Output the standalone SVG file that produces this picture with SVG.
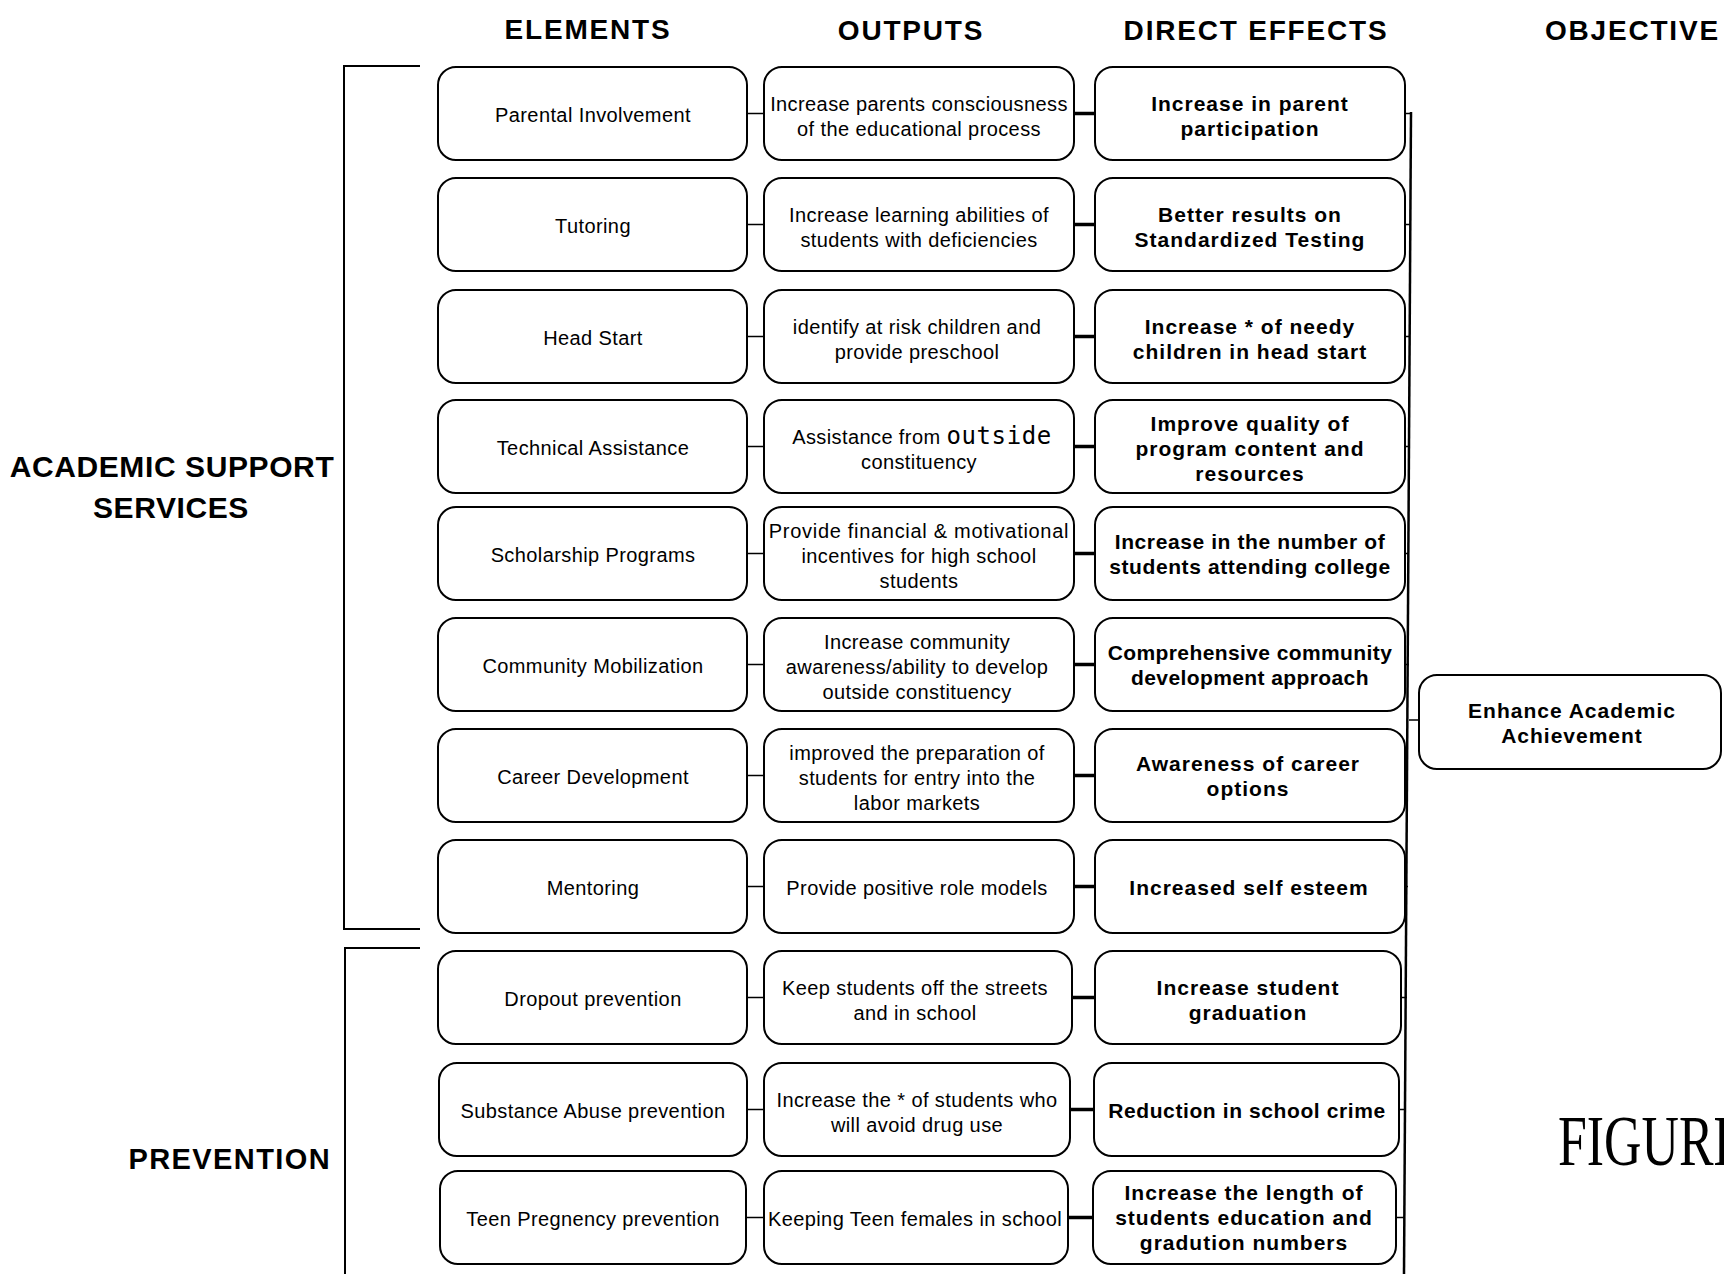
<svg xmlns="http://www.w3.org/2000/svg" width="1724" height="1274" viewBox="0 0 1724 1274">
<style>
.box{fill:#fff;stroke:#000;stroke-width:2}
.t{font-family:"Liberation Sans",Arial,sans-serif;font-size:20px;letter-spacing:0.4px;text-anchor:middle;fill:#000}
.b{font-family:"Liberation Sans",Arial,sans-serif;font-weight:bold;font-size:21px;letter-spacing:1px;text-anchor:middle;fill:#000}
.h{font-family:"Liberation Sans",Arial,sans-serif;font-weight:bold;font-size:28px;letter-spacing:1.8px;text-anchor:middle;fill:#000}
.s{font-family:"Liberation Sans",Arial,sans-serif;font-weight:bold;font-size:30px;letter-spacing:0.6px;text-anchor:middle;fill:#000}
.m{font-family:"DejaVu Sans Mono",monospace;font-size:24px;letter-spacing:0.6px}
.c1{stroke:#000;stroke-width:1.5;fill:none}
.c3{stroke:#000;stroke-width:3.5;fill:none}
.ln{stroke:#000;stroke-width:2;fill:none}
</style>
<rect width="1724" height="1274" fill="#fff"/>

<g id="headers">
<text class="h" x="588" y="39">ELEMENTS</text>
<text class="h" x="911" y="40">OUTPUTS</text>
<text class="h" x="1256" y="40">DIRECT EFFECTS</text>
<text class="h" x="1545" y="40" style="text-anchor:start">OBJECTIVE</text>
</g>

<g id="group-labels">
<text class="s" x="172" y="477">ACADEMIC SUPPORT</text>
<text class="s" x="171" y="518">SERVICES</text>
<text class="s" x="331" y="1169" style="text-anchor:end;font-size:29px;letter-spacing:1.4px">PREVENTION</text>
</g>

<g id="brackets">
<path class="ln" d="M420,66 H344 V929 H420"/>
<path class="ln" d="M420,948 H345 V1274"/>
</g>

<g id="connectors">
<path class="c1" d="M747,113.5 H764 M747,224.5 H764 M747,336.5 H764 M747,446.5 H764 M747,553.5 H764 M747,664.5 H764 M747,775.5 H764 M747,886.5 H764 M747,997.5 H764 M747,1109.5 H764 M746,1217.5 H764"/>
<path class="c3" d="M1074,113.5 H1095 M1074,224.5 H1095 M1074,336.5 H1095 M1074,446.5 H1095 M1074,553.5 H1095 M1074,664.5 H1095 M1074,775.5 H1095 M1074,886.5 H1095 M1072,997.5 H1095 M1070,1109.5 H1094 M1068,1217.5 H1093"/>
<path class="c1" d="M1405,113.5 H1411 M1405,224.5 H1411 M1405,336.5 H1410 M1405,446.5 H1410 M1405,553.5 H1409 M1405,664.5 H1409 M1405,775.5 H1408 M1405,886.5 H1408 M1401,997.5 H1407 M1399,1109.5 H1406 M1396,1217.5 H1405"/>
<path d="M1411,112 L1404,1274" stroke="#000" stroke-width="2.5" fill="none"/>
<path class="c1" d="M1409,720 H1419"/>
</g>

<g id="e1"><rect class="box" x="438" y="67" width="309" height="93" rx="18"/><text class="t" x="593" y="121.5">Parental Involvement</text></g>
<g id="e2"><rect class="box" x="438" y="178" width="309" height="93" rx="18"/><text class="t" x="593" y="232.5">Tutoring</text></g>
<g id="e3"><rect class="box" x="438" y="290" width="309" height="93" rx="18"/><text class="t" x="593" y="344.5">Head Start</text></g>
<g id="e4"><rect class="box" x="438" y="400" width="309" height="93" rx="18"/><text class="t" x="593" y="454.5">Technical Assistance</text></g>
<g id="e5"><rect class="box" x="438" y="507" width="309" height="93" rx="18"/><text class="t" x="593" y="561.5">Scholarship Programs</text></g>
<g id="e6"><rect class="box" x="438" y="618" width="309" height="93" rx="18"/><text class="t" x="593" y="672.5">Community Mobilization</text></g>
<g id="e7"><rect class="box" x="438" y="729" width="309" height="93" rx="18"/><text class="t" x="593" y="783.5">Career Development</text></g>
<g id="e8"><rect class="box" x="438" y="840" width="309" height="93" rx="18"/><text class="t" x="593" y="894.5">Mentoring</text></g>
<g id="e9"><rect class="box" x="438" y="951" width="309" height="93" rx="18"/><text class="t" x="593" y="1005.5">Dropout prevention</text></g>
<g id="e10"><rect class="box" x="439" y="1063" width="308" height="93" rx="18"/><text class="t" x="593" y="1117.5">Substance Abuse prevention</text></g>
<g id="e11"><rect class="box" x="440" y="1171" width="306" height="93" rx="18"/><text class="t" x="593" y="1225.5">Teen Pregnency prevention</text></g>

<g id="o1"><rect class="box" x="764" y="67" width="310" height="93" rx="18"/><text class="t" x="919" y="111">Increase parents consciousness<tspan x="919" dy="24.5">of the educational process</tspan></text></g>
<g id="o2"><rect class="box" x="764" y="178" width="310" height="93" rx="18"/><text class="t" x="919" y="222">Increase learning abilities of<tspan x="919" dy="24.5">students with deficiencies</tspan></text></g>
<g id="o3"><rect class="box" x="764" y="290" width="310" height="93" rx="18"/><text class="t" x="917" y="334">identify at risk children and<tspan x="917" dy="24.5">provide preschool</tspan></text></g>
<g id="o4"><rect class="box" x="764" y="400" width="310" height="93" rx="18"/><text class="t" x="922" y="444">Assistance from <tspan class="m">outside</tspan><tspan x="919" dy="24.5">constituency</tspan></text></g>
<g id="o5"><rect class="box" x="764" y="507" width="310" height="93" rx="18"/><text class="t" x="919" y="537.5"><tspan style="letter-spacing:0.7px">Provide financial &amp; motivational</tspan><tspan x="919" dy="25">incentives for high school</tspan><tspan x="919" dy="25">students</tspan></text></g>
<g id="o6"><rect class="box" x="764" y="618" width="310" height="93" rx="18"/><text class="t" x="917" y="648.5">Increase community<tspan x="917" dy="25">awareness/ability to develop</tspan><tspan x="917" dy="25">outside constituency</tspan></text></g>
<g id="o7"><rect class="box" x="764" y="729" width="310" height="93" rx="18"/><text class="t" x="917" y="759.5">improved the preparation of<tspan x="917" dy="25">students for entry into the</tspan><tspan x="917" dy="25">labor markets</tspan></text></g>
<g id="o8"><rect class="box" x="764" y="840" width="310" height="93" rx="18"/><text class="t" x="917" y="894.5">Provide positive role models</text></g>
<g id="o9"><rect class="box" x="764" y="951" width="308" height="93" rx="18"/><text class="t" x="915" y="995">Keep students off the streets<tspan x="915" dy="24.5">and in school</tspan></text></g>
<g id="o10"><rect class="box" x="764" y="1063" width="306" height="93" rx="18"/><text class="t" x="917" y="1107">Increase the * of students who<tspan x="917" dy="24.5">will avoid drug use</tspan></text></g>
<g id="o11"><rect class="box" x="764" y="1171" width="304" height="93" rx="18"/><text class="t" x="915" y="1225.5">Keeping Teen females in school</text></g>

<g id="d1"><rect class="box" x="1095" y="67" width="310" height="93" rx="18"/><text class="b" x="1250" y="111">Increase in parent<tspan x="1250" dy="24.5">participation</tspan></text></g>
<g id="d2"><rect class="box" x="1095" y="178" width="310" height="93" rx="18"/><text class="b" x="1250" y="222">Better results on<tspan x="1250" dy="24.5">Standardized Testing</tspan></text></g>
<g id="d3"><rect class="box" x="1095" y="290" width="310" height="93" rx="18"/><text class="b" x="1250" y="334">Increase * of needy<tspan x="1250" dy="24.5">children in head start</tspan></text></g>
<g id="d4"><rect class="box" x="1095" y="400" width="310" height="93" rx="18"/><text class="b" x="1250" y="430.5">Improve quality of<tspan x="1250" dy="25">program content and</tspan><tspan x="1250" dy="25">resources</tspan></text></g>
<g id="d5"><rect class="box" x="1095" y="507" width="310" height="93" rx="18"/><text class="b" x="1250" y="549" style="letter-spacing:0.6px">Increase in the number of<tspan x="1250" dy="24.5">students attending college</tspan></text></g>
<g id="d6"><rect class="box" x="1095" y="618" width="310" height="93" rx="18"/><text class="b" x="1250" y="660" style="letter-spacing:0.4px">Comprehensive community<tspan x="1250" dy="24.5">development approach</tspan></text></g>
<g id="d7"><rect class="box" x="1095" y="729" width="310" height="93" rx="18"/><text class="b" x="1248" y="771">Awareness of career<tspan x="1248" dy="24.5">options</tspan></text></g>
<g id="d8"><rect class="box" x="1095" y="840" width="310" height="93" rx="18"/><text class="b" x="1249" y="894.5">Increased self esteem</text></g>
<g id="d9"><rect class="box" x="1095" y="951" width="306" height="93" rx="18"/><text class="b" x="1248" y="995">Increase student<tspan x="1248" dy="24.5">graduation</tspan></text></g>
<g id="d10"><rect class="box" x="1094" y="1063" width="305" height="93" rx="18"/><text class="b" x="1247" y="1117.5" style="letter-spacing:0.6px">Reduction in school crime</text></g>
<g id="d11"><rect class="box" x="1093" y="1171" width="303" height="93" rx="18"/><text class="b" x="1244" y="1200">Increase the length of<tspan x="1244" dy="25">students education and</tspan><tspan x="1244" dy="25">gradution numbers</tspan></text></g>

<g id="objective"><rect class="box" x="1419" y="675" width="302" height="94" rx="18"/><text class="b" x="1572" y="718">Enhance Academic<tspan x="1572" dy="25">Achievement</tspan></text></g>

<text transform="translate(1558,1165) scale(0.72,1)" font-family="'Liberation Serif','Times New Roman',serif" font-size="72" fill="#000">FIGURE</text>
</svg>
